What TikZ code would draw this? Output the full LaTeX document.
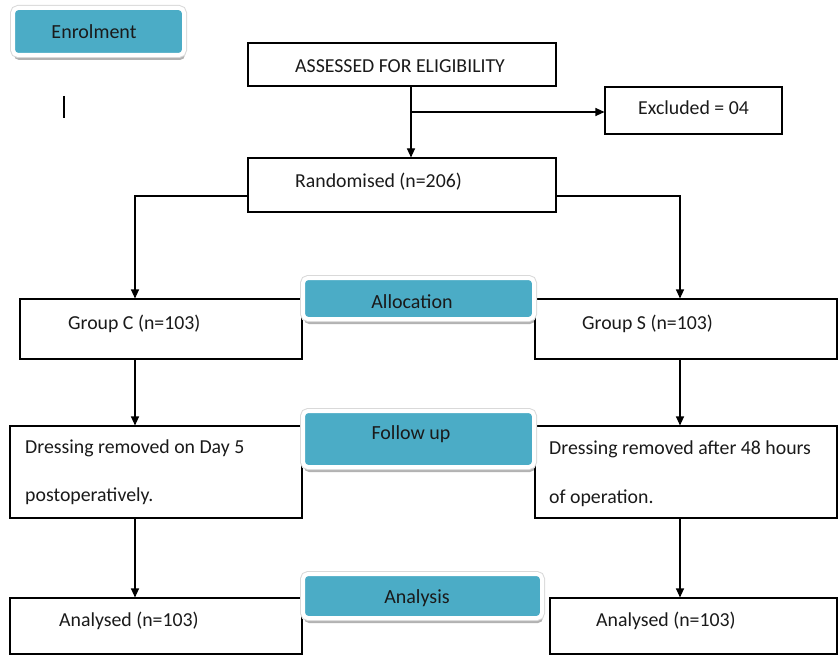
\documentclass[tikz,border=0pt]{standalone}
\usepackage{fontspec}
\setmainfont{Carlito}
\usetikzlibrary{arrows.meta,calc,shadows}
\definecolor{teal5}{HTML}{4BACC6}
\definecolor{txtc}{HTML}{1A1A1A}
\begin{document}
\begin{tikzpicture}[x=1pt,y=-1pt,
  box/.style={draw=black,line width=1.1pt,fill=white,minimum width=#1,inner sep=0pt},
  txt/.style={anchor=west,inner sep=0pt,text=txtc,font=\fontsize{19.8}{23}\selectfont},
  banner/.style={rounded corners=5pt,fill=teal5,draw=white,line width=4pt,
     drop shadow={shadow xshift=1pt,shadow yshift=-5pt,fill=black!50,opacity=0.6},
     preaction={draw=black!15,line width=6pt},inner sep=0pt},
  btxt/.style={anchor=base,inner sep=0pt,text=txtc,font=\fontsize{20}{23}\selectfont},
  arr/.style={draw=black,line width=1.1pt,-{Triangle[length=9pt,width=8pt]}},
  ln/.style={draw=black,line width=1.1pt}]
\useasboundingbox (0,0) rectangle (838,655);
\fill[white] (0,0) rectangle (838,655);

% boxes
\node[box=308pt,minimum height=43pt] (assess) at (402,64.5) {};
\node[box=177pt,minimum height=47pt] (excl) at (693.5,110.5) {};
\node[box=308pt,minimum height=54pt] (rand) at (402,185) {};
\node[box=282pt,minimum height=60pt] (gc) at (161,329) {};
\node[box=302pt,minimum height=60pt] (gs) at (686,329) {};
\node[box=292pt,minimum height=92pt] (dl) at (156,472) {};
\node[box=302pt,minimum height=92pt] (dr) at (686,472) {};
\node[box=292pt,minimum height=56pt] (al) at (156,626) {};
\node[box=287pt,minimum height=56pt] (ar) at (693.5,626) {};

% texts
\node[txt] (t1) at (295,66) {ASSESSED FOR ELIGIBILITY};
\node[txt] (t2) at (638,108) {Excluded = 04};
\node[txt] (t3) at (295,182) {Randomised (n=206)};
\node[txt] (t4) at (68,324) {Group C (n=103)};
\node[txt] (t5) at (582,324) {Group S (n=103)};
\node[txt] (t6) at (25,448) {Dressing removed on Day 5};
\node[txt] (t7) at (25,496) {postoperatively.};
\node[txt] (t8) at (549,449) {Dressing removed after 48 hours};
\node[txt] (t9) at (549,498) {of operation.};
\node[txt] (t10) at (59,621) {Analysed (n=103)};
\node[txt] (t11) at (596,621) {Analysed (n=103)};

% connectors
\coordinate (cx) at (411,0);
\coordinate (by) at (0,112);
\coordinate (ry) at (0,196);
\coordinate (lx) at (135,0);
\coordinate (rx) at (680,0);
\draw[arr] (assess.south -| cx) -- (rand.north -| cx);
\draw[arr] (cx |- by) -- (excl.west |- by);
\draw[arr] (rand.west |- ry) -| (lx |- gc.north);
\draw[arr] (rand.east |- ry) -| (rx |- gs.north);
\draw[arr] (lx |- gc.south) -- (lx |- dl.north);
\draw[arr] (rx |- gs.south) -- (rx |- dr.north);
\draw[arr] (lx |- dl.south) -- (lx |- al.north);
\draw[arr] (rx |- dr.south) -- (rx |- ar.north);

% stray cursor mark
\coordinate (m1) at (64,96);
\coordinate (m2) at (64,118);
\draw[ln,line width=1.3pt] (m1) -- (m2);

% banners
\node[banner,minimum width=171pt,minimum height=47pt] (enrol) at (98.5,31.5) {};
\node[banner,minimum width=231pt,minimum height=41pt] (alloc) at (418.5,298.5) {};
\node[banner,minimum width=231pt,minimum height=56pt] (follow) at (418.5,439) {};
\node[banner,minimum width=239pt,minimum height=44pt] (anal) at (422.5,596) {};
\node[btxt] (enrolT) at (94,38.5) {Enrolment};
\node[btxt] (allocT) at (412,308.5) {Allocation};
\node[btxt] (followT) at (411,439.5) {Follow up};
\node[btxt] (analT) at (417,603.5) {Analysis};
\end{tikzpicture}
\end{document}
